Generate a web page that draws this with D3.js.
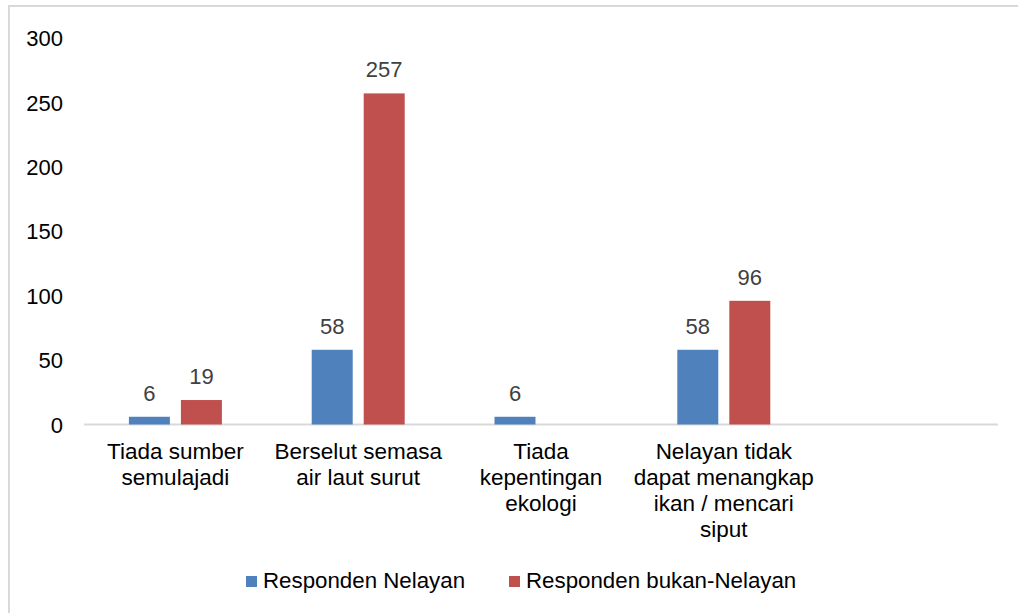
<!DOCTYPE html>
<html>
<head>
<meta charset="utf-8">
<script src="https://cdn.jsdelivr.net/npm/d3@7"></script>
<style>
  body { margin: 0; background: #fff; }
  svg { display: block; font-family: "Liberation Sans", Arial, sans-serif; }
</style>
</head>
<body>
<svg id="chart"></svg>
<script>
const categories = [
  ["Tiada sumber", "semulajadi"],
  ["Berselut semasa", "air laut surut"],
  ["Tiada", "kepentingan", "ekologi"],
  ["Nelayan tidak", "dapat menangkap", "ikan / mencari", "siput"],
  [""]
];
const seriesNames = ["Responden Nelayan", "Responden bukan-Nelayan"];
const nelayan = [6, 58, 6, 58, null];
const bukanNelayan = [19, 257, null, 96, null];
const yTicks = [0, 50, 100, 150, 200, 250, 300];
const colors = ["#4F81BD", "#C0504D"];

const width = 1018, height = 613;
const margin = { top: 38, left: 84 };
const plotRight = 998;
const plotBottom = 424.5;

const svg = d3.select("#chart").attr("width", width).attr("height", height);

// outer border (only top and left visible in the crop)
svg.append("path")
  .attr("d", `M9,${height} V6 H${width}`)
  .attr("fill", "none")
  .attr("stroke", "#d9d9d9")
  .attr("stroke-width", 2);

const x0 = d3.scaleBand()
  .domain(d3.range(categories.length))
  .range([margin.left, plotRight])
  .paddingInner(0)
  .paddingOuter(0);

const barW = 41, barGap = 11;
const x1 = d3.scaleOrdinal()
  .domain([0, 1])
  .range([-(barGap / 2) - barW, barGap / 2]);

const y = d3.scaleLinear().domain([0, 300]).range([plotBottom, margin.top]);

// y axis labels
const yAxis = d3.axisLeft(y).tickValues(yTicks).tickSize(0).tickPadding(0);
const yg = svg.append("g")
  .attr("transform", `translate(63,0)`)
  .call(yAxis);
yg.select(".domain").remove();
yg.selectAll("text")
  .attr("font-size", 22)
  .attr("font-family", "Liberation Sans, Arial, sans-serif")
  .attr("fill", "#000")
  .attr("dy", "0.35em");

// baseline
svg.append("line")
  .attr("x1", margin.left).attr("x2", plotRight)
  .attr("y1", y(0)).attr("y2", y(0))
  .attr("stroke", "#d9d9d9")
  .attr("stroke-width", 2);

const series = [nelayan, bukanNelayan];
series.forEach((vals, si) => {
  const g = svg.append("g");
  const data = vals.map((v, i) => ({ v, i })).filter(d => d.v != null);
  g.selectAll("rect")
    .data(data)
    .join("rect")
    .attr("x", d => x0(d.i) + x0.bandwidth() / 2 + x1(si))
    .attr("width", barW)
    .attr("y", d => y(d.v))
    .attr("height", d => y(0) - y(d.v))
    .attr("fill", colors[si]);
  g.selectAll("text")
    .data(data)
    .join("text")
    .attr("x", d => x0(d.i) + x0.bandwidth() / 2 + x1(si) + barW / 2)
    .attr("y", d => y(d.v) - 16)
    .attr("text-anchor", "middle")
    .attr("font-size", 22)
    .attr("fill", "#404040")
    .text(d => d.v);
});

// category labels
const catG = svg.append("g");
categories.forEach((lines, i) => {
  const t = catG.append("text")
    .attr("x", x0(i) + x0.bandwidth() / 2)
    .attr("y", 459)
    .attr("text-anchor", "middle")
    .attr("font-size", 22.5)
    .attr("fill", "#000");
  lines.forEach((ln, j) => {
    t.append("tspan")
      .attr("x", x0(i) + x0.bandwidth() / 2)
      .attr("dy", j === 0 ? 0 : 26)
      .text(ln);
  });
});

// legend
const legendItems = [
  { x: 246, name: seriesNames[0], color: colors[0] },
  { x: 509, name: seriesNames[1], color: colors[1] }
];
const lg = svg.append("g");
legendItems.forEach(d => {
  lg.append("rect")
    .attr("x", d.x).attr("y", 576)
    .attr("width", 11).attr("height", 11)
    .attr("fill", d.color);
  lg.append("text")
    .attr("x", d.x + 17)
    .attr("y", 588)
    .attr("font-size", 22.3)
    .attr("fill", "#000")
    .text(d.name);
});
</script>
</body>
</html>
